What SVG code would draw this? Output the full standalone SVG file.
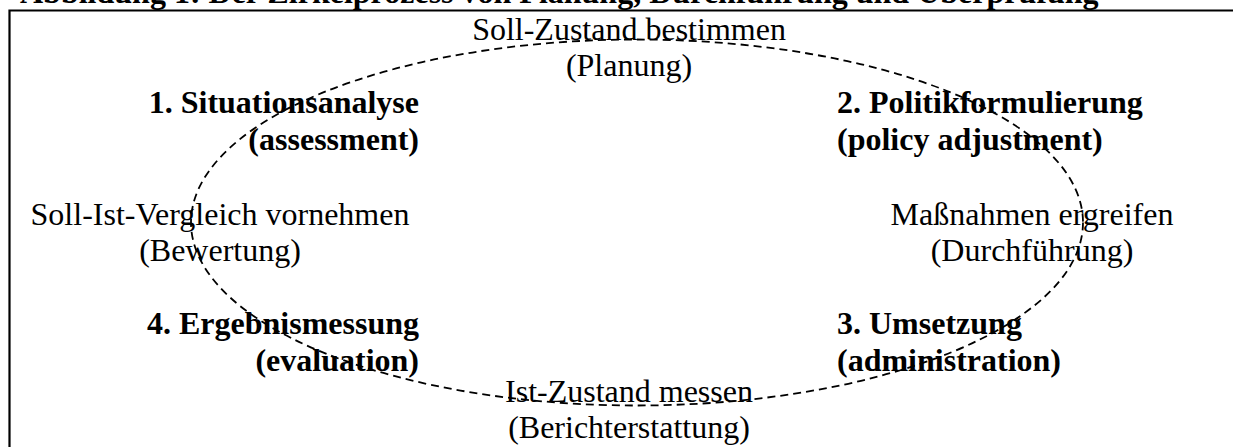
<svg xmlns="http://www.w3.org/2000/svg" width="1233" height="447" viewBox="0 0 1233 447">
<style>
  text { font-family: "Liberation Serif", "Times New Roman", serif; font-size: 32px; fill: #000; }
  .b { font-weight: bold; }
  .mid { text-anchor: middle; }
  .end { text-anchor: end; }
  .frame { fill: none; stroke: #000; stroke-width: 2.2; }
  .cycle { fill: none; stroke: #000; stroke-width: 1.8; stroke-dasharray: 8 5; }
</style>
<rect width="1233" height="447" fill="#fff"/>
<g id="title">
  <text class="b" x="20" y="3">Abbildung 1: Der Zirkelprozess von Planung, Durchführung und Überprüfung</text>
</g>
<path id="frame" class="frame" d="M9.5,450 V10.5 H1236"/>
<g id="connectors">
  <ellipse class="cycle" cx="637" cy="222.5" rx="446" ry="183"/>
</g>
<g id="node-planung">
  <text class="mid" x="629" y="40">Soll-Zustand bestimmen</text>
  <text class="mid" x="629" y="76">(Planung)</text>
</g>
<g id="node-situationsanalyse">
  <text class="b end" x="419" y="113">1. Situationsanalyse</text>
  <text class="b end" x="419" y="150">(assessment)</text>
</g>
<g id="node-politikformulierung">
  <text class="b" x="837" y="113">2. Politikformulierung</text>
  <text class="b" x="837" y="150">(policy adjustment)</text>
</g>
<g id="node-bewertung">
  <text class="mid" x="220" y="225">Soll-Ist-Vergleich vornehmen</text>
  <text class="mid" x="220" y="261">(Bewertung)</text>
</g>
<g id="node-durchfuehrung">
  <text class="mid" x="1032" y="225">Maßnahmen ergreifen</text>
  <text class="mid" x="1032" y="261">(Durchführung)</text>
</g>
<g id="node-ergebnismessung">
  <text class="b end" x="419" y="334">4. Ergebnismessung</text>
  <text class="b end" x="419" y="371">(evaluation)</text>
</g>
<g id="node-umsetzung">
  <text class="b" x="837" y="334">3. Umsetzung</text>
  <text class="b" x="837" y="371">(administration)</text>
</g>
<g id="node-berichterstattung">
  <text class="mid" x="629" y="402">Ist-Zustand messen</text>
  <text class="mid" x="629" y="438">(Berichterstattung)</text>
</g>
</svg>
